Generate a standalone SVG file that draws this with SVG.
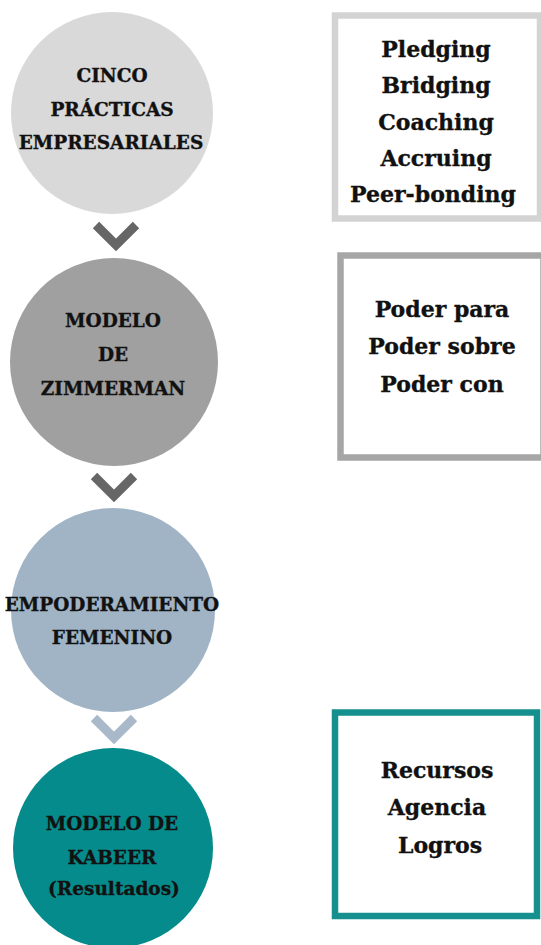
<svg xmlns="http://www.w3.org/2000/svg" width="541" height="945" viewBox="0 0 541 945">
<style>
.ct{font-family:"DejaVu Serif","Liberation Serif",serif;font-weight:bold;font-size:18.5px;fill:#111;stroke:#111;stroke-width:0.35;text-anchor:middle}
.bt{font-family:"DejaVu Serif","Liberation Serif",serif;font-weight:bold;font-size:22px;fill:#111;stroke:#111;stroke-width:0.35;text-anchor:middle}
.box{fill:#fff;stroke-width:6.5}
.chev{fill:none;stroke-width:9;stroke-linejoin:miter}
</style>
<rect width="541" height="945" fill="#fff"/>
<g id="connectors">
<polyline class="chev" stroke="#666666" points="96,225 116,245 136,225"/>
<polyline class="chev" stroke="#666666" points="94,476 114,496 134,476"/>
<polyline class="chev" stroke="#a9b9c9" points="94,718 114,738 134,718"/>
</g>
<g id="n1">
<circle cx="112" cy="113" r="101" fill="#d9d9d9"/>
<text class="ct" x="112" y="82">CINCO</text>
<text class="ct" x="112" y="116">PRÁCTICAS</text>
<text class="ct" x="111" y="149">EMPRESARIALES</text>
</g>
<g id="n2">
<circle cx="114" cy="362" r="104" fill="#a0a0a0"/>
<text class="ct" x="113" y="327">MODELO</text>
<text class="ct" x="113" y="361">DE</text>
<text class="ct" x="113" y="395">ZIMMERMAN</text>
</g>
<g id="n3">
<circle cx="113" cy="610" r="102" fill="#a0b4c6"/>
<text class="ct" x="112" y="611">EMPODERAMIENTO</text>
<text class="ct" x="112" y="644">FEMENINO</text>
</g>
<g id="n4">
<circle cx="113" cy="848" r="100" fill="#058b8b"/>
<text class="ct" x="112" y="830">MODELO DE</text>
<text class="ct" x="112" y="864">KABEER</text>
<text class="ct" x="114" y="895">(Resultados)</text>
</g>
<g id="b1">
<rect class="box" x="335" y="15.5" width="205" height="203" stroke="#d3d3d3"/>
<text class="bt" x="436" y="57">Pledging</text>
<text class="bt" x="436" y="93">Bridging</text>
<text class="bt" x="436" y="130">Coaching</text>
<text class="bt" x="436" y="166">Accruing</text>
<text class="bt" x="433" y="202">Peer-bonding</text>
</g>
<g id="b2">
<rect class="box" x="340.5" y="255.5" width="203" height="202" stroke="#a6a6a6"/>
<text class="bt" x="442" y="317">Poder para</text>
<text class="bt" x="442" y="354">Poder sobre</text>
<text class="bt" x="442" y="392">Poder con</text>
</g>
<g id="b3">
<rect class="box" x="335" y="712.5" width="202" height="203.5" stroke="#15908f"/>
<text class="bt" x="437" y="778">Recursos</text>
<text class="bt" x="437" y="815">Agencia</text>
<text class="bt" x="440" y="853">Logros</text>
</g>
</svg>
